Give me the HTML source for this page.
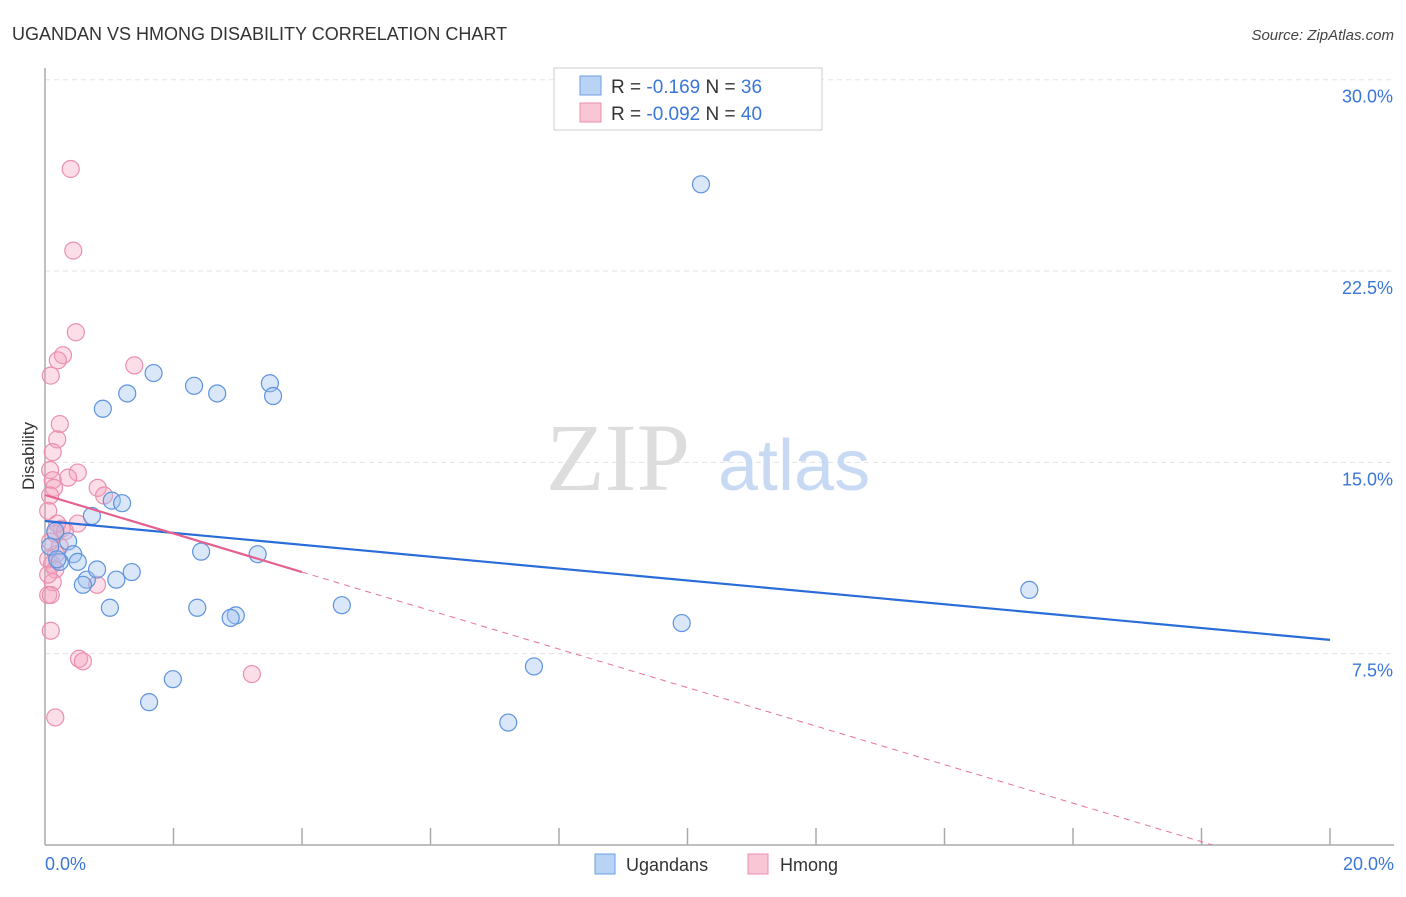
<!DOCTYPE html>
<html><head><meta charset="utf-8"><style>
body{margin:0;background:#fff;font-family:"Liberation Sans",sans-serif;}
</style></head><body>
<svg width="1406" height="892" xmlns="http://www.w3.org/2000/svg" id="chart" font-family="Liberation Sans, sans-serif">
<text x="12" y="40" font-size="18" fill="#333">UGANDAN VS HMONG DISABILITY CORRELATION CHART</text>
<text x="1394" y="40" font-size="15" fill="#444" text-anchor="end" font-style="italic">Source: ZipAtlas.com</text>
<g id="grid"></g>
<text x="690" y="490" font-size="96" fill="#ddd" text-anchor="end" font-family="Liberation Serif, serif">ZIP</text>
<text x="718" y="490" font-size="72" fill="#c8daf3">atlas</text>
<g id="axes"></g>
<g id="pts"></g>
<g id="lines"></g>
<text x="34" y="456" font-size="17" fill="#333" transform="rotate(-90 34 456)" text-anchor="middle">Disability</text>
<text x="45" y="870" font-size="18" fill="#3a76d8">0.0%</text>
<text x="1394" y="870" font-size="18" fill="#3a76d8" text-anchor="end">20.0%</text>
<g>
<rect x="554" y="68" width="268" height="62" fill="#fff" stroke="#ccc"/>
<rect x="580" y="76" width="21" height="19" fill="#b9d3f5" stroke="#6d9fe3"/>
<rect x="580" y="103" width="21" height="19" fill="#f9c6d6" stroke="#eb8fae"/>
<text x="611" y="93" font-size="19" fill="#333">R = <tspan fill="#3a76d8"> -0.169</tspan>    N = <tspan fill="#3a76d8"> 36</tspan></text>
<text x="611" y="120" font-size="19" fill="#333">R = <tspan fill="#3a76d8">-0.092</tspan>    N = <tspan fill="#3a76d8">40</tspan></text>
</g>
<g>
<rect x="595" y="854" width="20" height="20" fill="#b9d3f5" stroke="#6d9fe3"/>
<text x="626" y="871" font-size="18" fill="#333">Ugandans</text>
<rect x="748" y="854" width="20" height="20" fill="#f9c6d6" stroke="#eb8fae"/>
<text x="780" y="871" font-size="18" fill="#333">Hmong</text>
</g>
</svg>
<script>
const yTicks=[7.5,15,22.5,30];
const yTickLabels=["7.5%","15.0%","22.5%","30.0%"];
const ugX=[10.21,1.69,2.32,2.68,3.5,3.55,1.28,0.9,1.04,1.2,0.73,0.36,0.16,0.44,0.51,0.23,0.65,0.59,0.81,1.11,1.35,2.43,3.31,1.01,2.37,2.97,2.89,4.62,1.99,1.62,7.61,7.21,9.91,15.32,0.08,0.19];
const ugY=[25.9,18.5,18.0,17.7,18.1,17.6,17.7,17.1,13.5,13.4,12.9,11.9,12.3,11.4,11.1,11.1,10.4,10.2,10.8,10.4,10.7,11.5,11.4,9.3,9.3,9.0,8.9,9.4,6.5,5.6,7.0,4.8,8.7,10.0,11.7,11.2];
const hmX=[0.4,0.44,0.48,0.28,0.2,0.09,1.39,0.23,0.19,0.12,0.51,0.36,0.08,0.12,0.14,0.82,0.92,0.08,0.05,0.51,0.26,0.16,0.31,0.05,0.11,0.17,0.16,0.12,0.81,0.05,0.09,0.09,0.53,0.59,3.22,0.16,0.05,0.23,0.08,0.19];
const hmY=[26.5,23.3,20.1,19.2,19.0,18.4,18.8,16.5,15.9,15.4,14.6,14.4,14.7,14.3,14.0,14.0,13.7,13.7,13.1,12.6,12.4,12.2,12.3,11.2,11.0,11.4,10.8,10.3,10.2,9.8,9.8,8.4,7.3,7.2,6.7,5.0,10.6,11.7,11.9,12.6];
const ugLine=[12.7,8.04];
const hmLine=[13.72,-0.755];
const X=v=>45+v/20*1285, Y=v=>845-v/30*765.3;
const NS="http://www.w3.org/2000/svg";
function mk(p,t,a){const e=document.createElementNS(NS,t);for(const k in a)e.setAttribute(k,a[k]);p.appendChild(e);return e;}
const grid=document.getElementById('grid');
yTicks.forEach((t,i)=>{
 const l=mk(grid,'line',{x1:45,x2:1394,y1:Y(t),y2:Y(t),stroke:'#e3e3e3','stroke-dasharray':'5,4'});
 
 
 const tx=mk(grid,'text',{x:1393,y:Y(t)+23,'font-size':18,fill:'#3a76d8','text-anchor':'end'});
 tx.textContent=yTickLabels[i];
 
 
});
const ax=document.getElementById('axes');
mk(ax,'line',{x1:45,x2:45,y1:68,y2:845,stroke:'#aaa','stroke-width':1.5});
mk(ax,'line',{x1:45,x2:1394,y1:845,y2:845,stroke:'#aaa','stroke-width':1.5});
for(let i=1;i<=10;i++){const t=mk(ax,'line',{x1:X(i*2),x2:X(i*2),y1:828,y2:845,stroke:'#aaa','stroke-width':1.5});
 
 }
const pts=document.getElementById('pts');
hmX.forEach((x,i)=>{const c=mk(pts,'circle',{cx:X(x),cy:Y(hmY[i]),r:8.5,fill:'rgba(244,160,188,0.35)',stroke:'#eb8fae','stroke-width':1.2});
 
 });
ugX.forEach((x,i)=>{const c=mk(pts,'circle',{cx:X(x),cy:Y(ugY[i]),r:8.5,fill:'rgba(160,196,240,0.4)',stroke:'#5e93df','stroke-width':1.2});
 
 });
const ln=document.getElementById('lines');
const b=mk(ln,'line',{x1:X(0),y1:Y(ugLine[0]),x2:X(20),y2:Y(ugLine[1]),stroke:'#2a6dd8','stroke-width':2.2});


const xz=-hmLine[0]/hmLine[1];
const d=mk(ln,'line',{x1:X(4),y1:Y(hmLine[0]+hmLine[1]*4),x2:X(xz),y2:Y(0),stroke:'#e8729a','stroke-width':1,'stroke-dasharray':'6,5'});


const p=mk(ln,'line',{x1:X(0),y1:Y(hmLine[0]),x2:X(4),y2:Y(hmLine[0]+hmLine[1]*4),stroke:'#e3628f','stroke-width':2.2});


</script>
</body></html>
